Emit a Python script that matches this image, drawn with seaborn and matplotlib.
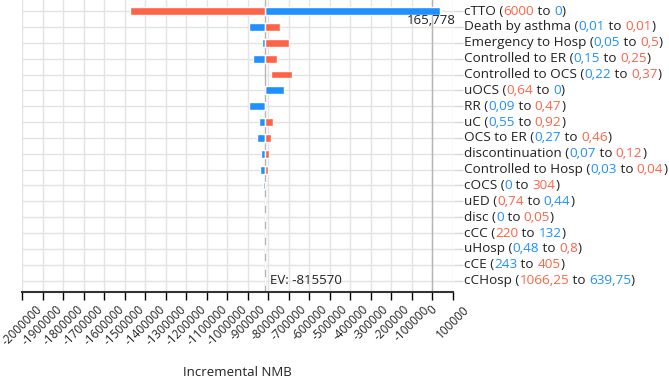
import matplotlib
matplotlib.use("Agg")
import matplotlib.pyplot as plt
import seaborn as sns

names = ["cTTO", "Death by asthma", "Emergency to Hosp", "Controlled to ER",
         "Controlled to OCS", "uOCS", "RR", "uC", "OCS to ER", "discontinuation",
         "Controlled to Hosp", "cOCS", "uED", "disc", "cCC", "uHosp", "cCE", "cCHosp"]
low_txt = ["6000", "0,01", "0,05", "0,15", "0,22", "0,64", "0,09", "0,55", "0,27",
           "0,07", "0,03", "0", "0,74", "0", "220", "0,48", "243", "1066,25"]
high_txt = ["0", "0,01", "0,5", "0,25", "0,37", "0", "0,47", "0,92", "0,46",
            "0,12", "0,04", "304", "0,44", "0,05", "132", "0,8", "405", "639,75"]
# whether the low value is the red one in the label
low_is_red = [True, False, False, False, False, True, False, False, False,
              False, False, False, True, False, True, False, False, True]

ev = -815570
# NMB at each end of the bar (blue end, red end)
blue_val = [37000, -893500, -830200, -876500, -788800, -722000, -893500, -847300,
            -855000, -835000, -840000, -825000, -815570, -817500, -815570, -815570,
            -815570, -815570]
red_val = [-1475900, -742500, -698600, -756900, -684000, -815570, -815000, -778500,
           -786500, -796000, -803400, -815570, -818000, -815570, -815570, -815570,
           -815570, -815570]
top_label = "165,778"
xticks = list(range(-2000000, 100001, 100000))

red = "#FF6347"
blue = "#1E90FF"

sns.set_style("white")
plt.rcParams["font.family"] = ["Open Sans", "DejaVu Sans"]

fig = plt.figure(figsize=(6.69, 3.82), dpi=100)
ax = fig.add_axes([22 / 669, 90 / 382, (453 - 22) / 669, 292 / 382])

rows = list(range(len(names)))
for i in rows:
    b, r = blue_val[i], red_val[i]
    if (b - ev) * (r - ev) > 0:
        # both ends on the same side: one bar from nearer to farther end
        near, far = sorted([b, r], key=lambda v: abs(v - ev))
        col = blue if far == b else red
        ax.barh(i, far - near, left=near, height=0.5, color=col, zorder=3)
    else:
        ax.barh(i, b - ev, left=ev, height=0.5, color=blue, zorder=3)
        ax.barh(i, r - ev, left=ev, height=0.5, color=red, zorder=3)

ax.set_xlim(-2000000, 100000)
ax.set_ylim(17.72, -0.7)
ax.set_xticks(xticks)
ax.set_xticklabels([str(t) for t in xticks], rotation=45, fontsize=8.5, color="#222222")
ax.set_yticks(rows)
ax.set_yticklabels([])
ax.yaxis.tick_right()
ax.tick_params(axis="y", length=7, color="#d9d9d9", width=1)
ax.tick_params(axis="x", length=6, color="black", width=1, direction="out",
               bottom=True, pad=2)
ax.grid(True, color="#e3e3e3", linewidth=1, zorder=0)
for s in ["top", "left", "right"]:
    ax.spines[s].set_visible(False)
ax.spines["bottom"].set_color("#333333")
ax.spines["bottom"].set_linewidth(1.5)

ax.axvline(ev, color="#b5b5b5", linewidth=1, zorder=1)
ax.axvline(0, color="#b5b5b5", linewidth=1, zorder=1)

ax.set_xlabel("Incremental NMB", fontsize=9.5, color="#222222", va="center")
ax.xaxis.set_label_coords(0.5, -(372 - 292) / 292)

ax.annotate("EV: " + str(ev), xy=(ev, 17), xytext=(5, 0), textcoords="offset pixels",
            va="center", ha="left", fontsize=9.5, color="#222222")
ax.annotate(top_label, xy=(blue_val[0], 0.6), xytext=(-9, 0), textcoords="offset pixels",
            va="center", ha="center", fontsize=9.5, color="#222222")

fs = 9.7
for i in rows:
    c_low = red if low_is_red[i] else blue
    c_high = blue if low_is_red[i] else red
    parts = [(names[i] + " (", "#222222"), (low_txt[i], c_low), (" to ", "#222222"),
             (high_txt[i], c_high), (")", "#222222")]
    t = ax.annotate(parts[0][0], xy=(1, i), xycoords=("axes fraction", "data"),
                    xytext=(11, 0), textcoords="offset pixels", va="center",
                    ha="left", fontsize=fs, color=parts[0][1], annotation_clip=False)
    for txt, col in parts[1:]:
        t = ax.annotate(txt, xy=(1, 0), xycoords=t, va="bottom", ha="left",
                        fontsize=fs, color=col)

fig.savefig("out.png", dpi=100)
